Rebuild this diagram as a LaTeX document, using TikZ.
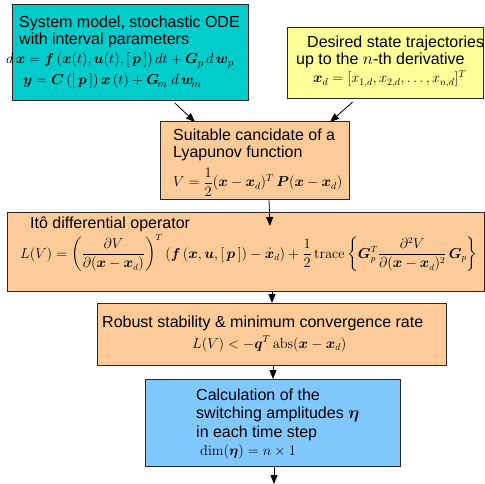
\documentclass[tikz,border=0pt]{standalone}
\usepackage{amsmath}
\usepackage{bm}
\usepackage[no-math]{fontspec}
\setmainfont{Liberation Sans}
\usetikzlibrary{arrows.meta,calc}
\definecolor{tealbox}{RGB}{0,204,204}
\definecolor{yellowbox}{RGB}{255,255,153}
\definecolor{peachbox}{RGB}{255,204,153}
\definecolor{bluebox}{RGB}{128,200,255}
\newcommand{\vb}[1]{\bm{#1}}
\begin{document}
\begin{tikzpicture}[x=1pt,y=-1pt,
  box/.style={draw=black!85, line width=1pt, inner sep=0pt, outer sep=0pt, anchor=north west},
  txt/.style={inner sep=0pt, anchor=base west, font=\fontsize{16}{19}\selectfont},
  mth/.style={inner sep=0pt, anchor=base west, font=\fontsize{14}{17}\selectfont},
  arr/.style={draw=black, line width=0.8pt, -{Triangle[length=9pt,width=7pt]}}]
\useasboundingbox (0,0) rectangle (485,484);
% boxes
\node[box, fill=tealbox, minimum width=236pt, minimum height=96pt] (b1) at (12,5) {};
\node[box, fill=yellowbox, minimum width=196pt, minimum height=71pt] (b2) at (287,28) {};
\node[box, fill=peachbox, minimum width=189pt, minimum height=78pt] (b3) at (160,122) {};
\node[box, fill=peachbox, minimum width=477pt, minimum height=78pt] (b4) at (7,213) {};
\node[box, fill=peachbox, minimum width=349pt, minimum height=62pt] (b5) at (97,303) {};
\node[box, fill=bluebox, minimum width=255pt, minimum height=87pt] (b6) at (145,379) {};
% box 1 texts
\node[txt] (t1a) at (19,28) {System model, stochastic ODE};
\node[txt] (t1b) at (19,45) {with interval parameters};
\node[mth, font=\fontsize{15.4}{18}\selectfont] (t1c) at (6,64) {$d\,\vb{x}=\vb{f}\,(\vb{x}(t),\vb{u}(t),[\,\vb{p}\,])\,dt+\vb{G}_{p}\,d\,\vb{w}_{p}$};
\node[mth, font=\fontsize{15.4}{18}\selectfont] (t1d) at (23,85) {$\vb{y}=\vb{C}\,([\,\vb{p}\,])\,\vb{x}\,(t)+\vb{G}_{\!m}\;d\,\vb{w}_{\!m}$};
% box 2 texts
\node[txt] (t2a) at (307,48) {Desired state trajectories};
\node[txt] (t2b) at (296,65) {up to the $n$-th derivative};
\node[mth] (t2c) at (313,83) {$\vb{x}_{d}=[x_{1,d},x_{2,d},\dots,x_{n,d}]^{T}$};
% box 3 texts
\node[txt] (t3a) at (173,141) {Suitable cancidate of a};
\node[txt] (t3b) at (173,158) {Lyapunov function};
\node[mth] (t3c) at (173,187) {$V=\dfrac{1}{2}(\vb{x}-\vb{x}_{d})^{T}\,\vb{P}(\vb{x}-\vb{x}_{d})$};
% box 4 texts
\node[txt] (t4a) at (30,229) {Itô differential operator};
\node[mth, anchor=west, font=\fontsize{13.3}{16}\selectfont] (t4b) at (20,253) {$L(V)=\left(\dfrac{\partial V}{\partial(\vb{x}-\vb{x}_{d})}\right)^{T}\left(\vb{f}\,(\vb{x},\vb{u},[\,\vb{p}\,])-\dot{\vb{x}}_{d}\right)+\dfrac{1}{2}\,\mathrm{trace}\left\{\vb{G}_{p}^{T}\dfrac{\partial^{2}V}{\partial(\vb{x}-\vb{x}_{d})^{2}}\,\vb{G}_{p}\right\}$};
% box 5 texts
\node[txt] (t5a) at (102,327) {Robust stability \& minimum convergence rate};
\node[mth] (t5b) at (192,348) {$L(V)<-\vb{q}^{T}\,\mathrm{abs}(\vb{x}-\vb{x}_{d})$};
% box 6 texts
\node[txt] (t6a) at (196,400) {Calculation of the};
\node[txt] (t6b) at (196,418) {switching amplitudes $\bm{\eta}$};
\node[txt] (t6c) at (196,437) {in each time step};
\node[mth] (t6d) at (200,455) {$\dim(\bm{\eta})=n\times 1$};
% connectors
\draw[arr] ($(b1.south west)!0.69!(b1.south east)+(0,2)$) -- ($(b3.north west)!0.185!(b3.north east)$);
\draw[arr] ($(b2.south west)!0.335!(b2.south east)+(0,3)$) -- ($(b3.north west)!0.90!(b3.north east)$);
\coordinate (c4) at (270,226);
\draw[arr] ($(b3.south west)!0.5767!(b3.south east)$) -- (c4);
\draw[arr] (b4.south -| 272,0) -- (b5.north -| 272,0);
\draw[arr] (b5.south -| 273,0) -- (b6.north -| 273,0);
\coordinate (c6) at (274,484);
\draw[arr] (b6.south -| c6) -- (c6);
\end{tikzpicture}
\end{document}
